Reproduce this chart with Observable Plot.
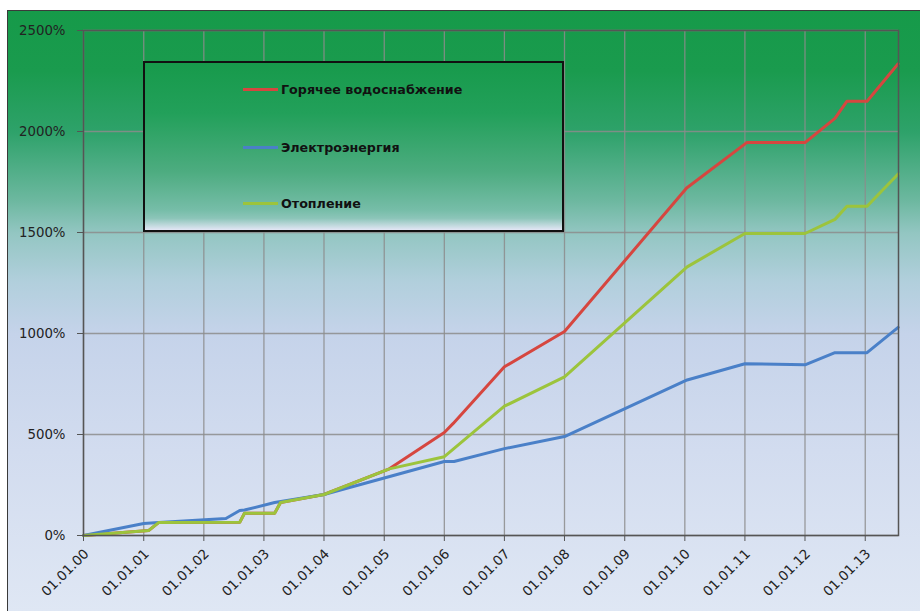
<!DOCTYPE html>
<html>
<head>
<meta charset="utf-8">
<script src="https://cdn.jsdelivr.net/npm/d3@7"></script>
<script src="https://cdn.jsdelivr.net/npm/@observablehq/plot@0.6"></script>
<style>
  html, body { margin: 0; padding: 0; background: #fff; }
  #wrap { position: relative; width: 920px; height: 611px; overflow: hidden; }
  #bg {
    position: absolute; left: 7px; top: 10px; width: 930px; height: 620px;
    border: 1.5px solid #3a3a3a; box-sizing: border-box;
    background: linear-gradient(to bottom,
      #169a49 0px, #1a9b4e 60px, #2ea26a 121px, #6db8a0 190px, #93c6c2 222px,
      #b1cfdc 270px, #c5d3ea 323px, #d2dcef 440px, #dfe7f4 601px);
  }
  #chart { position: absolute; left: 0; top: 0; }
  #legend {
    position: absolute; left: 143px; top: 61px; width: 421px; height: 171px;
    box-sizing: border-box; border: 2px solid #111;
    background: linear-gradient(to bottom, #179a4b 0%, #22a05a 30%, #4dac80 65%, #76bda8 88%, #8cc5b9 93%, #e3e6f5 100%);
    font-family: "DejaVu Sans", sans-serif; font-weight: bold; font-size: 12.7px; color: #111;
  }
  .item { position: absolute; left: 98px; display: flex; align-items: center; }
  .sw { width: 35px; height: 3px; margin-right: 3px; }
</style>
</head>
<body>
<div id="wrap">
  <div id="bg"></div>
  <div id="chart"></div>
  <div id="legend"></div>
</div>
<script>
// ---- data ----
const seriesNames = ["Горячее водоснабжение", "Электроэнергия", "Отопление"];
const seriesColors = ["#d6463f", "#4a80c8", "#9cc43c"];

const hotDates  = ["2000-01-01","2001-02-01","2001-04-01","2002-08-07","2002-09-05","2003-03-07","2003-04-12","2004-01-01","2005-02-01","2006-01-01","2006-02-24","2007-01-01","2008-01-01","2010-01-12","2011-01-12","2012-01-01","2012-07-01","2012-09-12","2013-01-12","2013-07-20"];
const hotValues = [0, 25, 64, 65, 110, 110, 163, 203, 330, 510, 555, 835, 1010, 1720, 1945, 1945, 2065, 2150, 2150, 2335];

const elecDates  = ["2000-01-01","2001-01-01","2001-04-01","2002-05-15","2002-08-07","2002-09-05","2003-03-07","2004-01-01","2005-01-01","2006-01-01","2006-03-01","2007-01-01","2008-01-01","2010-01-15","2011-01-01","2012-01-01","2012-07-01","2013-01-12","2013-07-20"];
const elecValues = [0, 59, 64, 84, 124, 126, 163, 203, 285, 366, 366, 430, 490, 770, 850, 845, 905, 905, 1030];

const heatDates  = ["2000-01-01","2001-02-01","2001-04-01","2002-08-07","2002-09-05","2003-03-07","2003-04-12","2004-01-01","2005-02-01","2006-01-01","2007-01-01","2008-01-01","2010-01-15","2011-01-01","2012-01-01","2012-07-01","2012-09-12","2013-01-12","2013-07-20"];
const heatValues = [0, 25, 64, 65, 110, 110, 163, 203, 330, 390, 640, 785, 1330, 1495, 1495, 1565, 1630, 1630, 1790];

const yTicks = [0, 500, 1000, 1500, 2000, 2500];
const xTickYears = [2000,2001,2002,2003,2004,2005,2006,2007,2008,2009,2010,2011,2012,2013];

// ---- build ----
const parse = d3.utcParse("%Y-%m-%d");
const seriesData = [
  [seriesNames[0], hotDates, hotValues],
  [seriesNames[1], elecDates, elecValues],
  [seriesNames[2], heatDates, heatValues]
];
const rows = seriesData.flatMap(([name, ds, vs]) => ds.map((d, i) => ({series: name, date: parse(d), value: vs[i]})));
const xTicks = xTickYears.map(y => new Date(Date.UTC(y, 0, 1)));

const chart = Plot.plot({
  width: 920, height: 611,
  marginLeft: 83, marginRight: 22, marginTop: 30, marginBottom: 76,
  style: {background: "transparent", fontFamily: "DejaVu Sans, sans-serif", fontSize: "13px", color: "#222"},
  x: {type: "utc", domain: [parse("2000-01-01"), parse("2013-07-22")]},
  y: {domain: [0, 2500]},
  color: {domain: seriesNames, range: seriesColors},
  marks: [
    Plot.gridX(xTicks, {stroke: "#8c8c8c", strokeOpacity: 0.85, strokeWidth: 1.3}),
    Plot.gridY(yTicks, {stroke: "#8c8c8c", strokeOpacity: 0.85, strokeWidth: 1.3}),
    Plot.lineY(rows, {x: "date", y: "value", z: "series", stroke: "series", strokeWidth: 3, strokeLinejoin: "round"}),
    Plot.frame({stroke: "#555", strokeWidth: 1.5}),
    Plot.axisY(yTicks, {tickFormat: d => d + "%", tickSize: 6, tickPadding: 12, label: null, stroke: "#555", fill: "#222", fontSize: 13.3}),
    Plot.axisX(xTicks, {text: null, tickSize: 6, label: null, stroke: "#555"}),
    Plot.axisX(xTicks, {tickFormat: d3.utcFormat("%d.%m.%y"), tickSize: 0, tickPadding: 16, dx: 3, tickRotate: -45, label: null, fill: "#222", fontSize: 13.5})
  ]
});
document.getElementById("chart").appendChild(chart);

// legend (HTML)
const legend = document.getElementById("legend");
const tops = [19, 77, 133];
seriesNames.forEach((n, i) => {
  const it = document.createElement("div");
  it.className = "item";
  it.style.top = tops[i] + "px";
  const sw = document.createElement("div");
  sw.className = "sw";
  sw.style.background = seriesColors[i];
  const tx = document.createElement("span");
  tx.textContent = n;
  it.appendChild(sw); it.appendChild(tx);
  legend.appendChild(it);
});
</script>
</body>
</html>
